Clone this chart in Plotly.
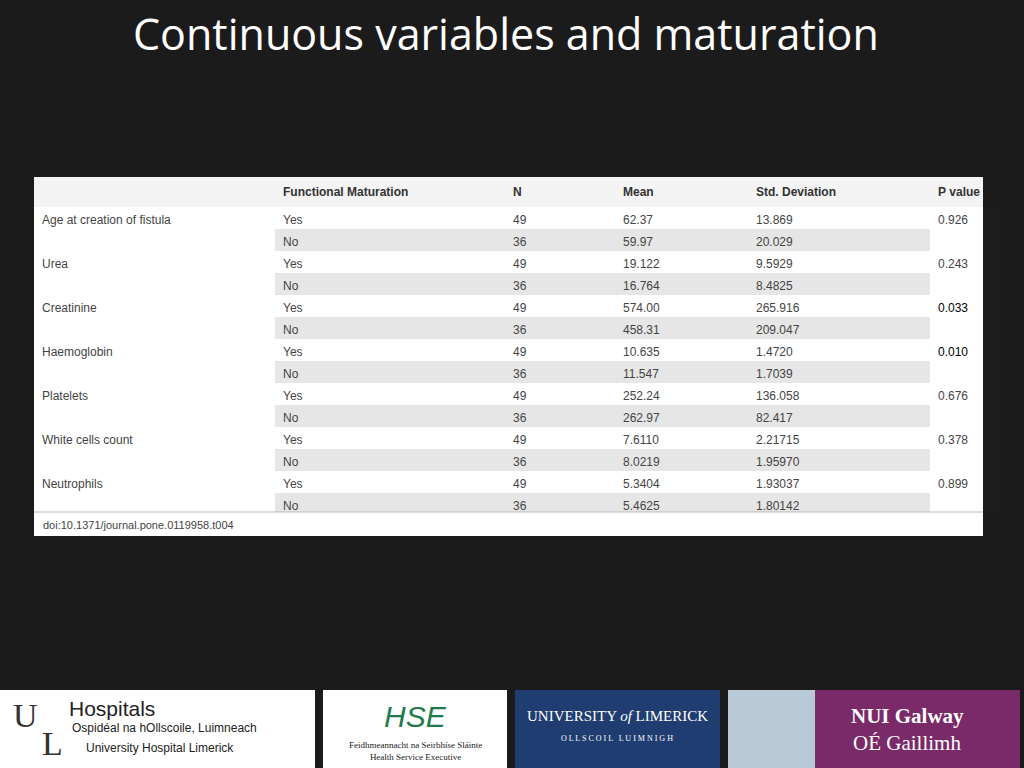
import plotly.graph_objects as go

variables = ["Age at creation of fistula", "", "Urea", "", "Creatinine", "", "Haemoglobin", "",
             "Platelets", "", "White cells count", "", "Neutrophils", ""]
maturation = ["Yes", "No"] * 7
n_vals = ["49", "36"] * 7
means = ["62.37", "59.97", "19.122", "16.764", "574.00", "458.31", "10.635", "11.547",
         "252.24", "262.97", "7.6110", "8.0219", "5.3404", "5.4625"]
std_devs = ["13.869", "20.029", "9.5929", "8.4825", "265.916", "209.047", "1.4720", "1.7039",
            "136.058", "82.417", "2.21715", "1.95970", "1.93037", "1.80142"]
p_values = ["0.926", "", "0.243", "", "0.033", "", "0.010", "", "0.676", "",
            "0.378", "", "0.899", ""]
significant = [False, False, False, False, True, False, True, False, False, False, False, False, False, False]
headers = ["", "<b>Functional Maturation</b>", "<b>N</b>", "<b>Mean</b>", "<b>Std. Deviation</b>",
           "<b>P\u00a0value</b>"]

W, H = 1024, 768
bg = "#1b1b1b"
grey = "#e6e6e6"

row_fill = ["white" if m == "Yes" else grey for m in maturation]
white_col = ["white"] * len(maturation)
fills = [white_col, row_fill, row_fill, row_fill, row_fill, white_col]
colors = [["#444"] * len(maturation)] * 5 + [["#000" if s else "#444" for s in significant]]

fig = go.Figure()
fig.add_trace(go.Table(
    domain=dict(x=[34 / W, 983 / W], y=[1 - 512 / H, 1 - 177 / H]),
    columnwidth=[241, 230, 110, 133, 182, 53],
    header=dict(values=headers, fill_color="#f4f4f4", height=28, align="left",
                line=dict(color="#f4f4f4", width=0),
                font=dict(family="Liberation Sans, Arial", size=12, color="#333")),
    cells=dict(values=[variables, maturation, n_vals, means, std_devs, p_values],
               fill_color=fills, height=22, align="left",
               line=dict(color="white", width=0),
               font=dict(family="Liberation Sans, Arial", size=12, color=colors)),
))

shapes = [
    dict(type="rect", xref="paper", yref="paper", x0=34 / W, x1=983 / W, y0=1 - 536 / H, y1=1 - 177 / H,
         fillcolor="white", line_width=0, layer="below"),
    dict(type="line", xref="paper", yref="paper", x0=34 / W, x1=983 / W, y0=1 - 512 / H, y1=1 - 512 / H,
         line=dict(color="#bbb", width=1)),
]
# footer logo panels
panels = [(0, 315, "white"), (323, 507, "white"), (515, 720, "#1f3d70"), (728, 815, "#b9c9d6"),
          (815, 1020, "#7a2a68")]
for x0, x1, c in panels:
    shapes.append(dict(type="rect", xref="paper", yref="paper", x0=x0 / W, x1=x1 / W,
                       y0=0, y1=1 - 690 / H, fillcolor=c, line_width=0))


def note(text, x, y, size, family="Liberation Sans", color="#222", anchor="center"):
    return dict(text=text, x=x / W, y=1 - y / H, xref="paper", yref="paper", xanchor=anchor,
                yanchor="middle", showarrow=False, font=dict(family=family, size=size, color=color))


ann = [
    note("Continuous variables and maturation", 506, 33, 43, "Open Sans, Lato", "white"),
    note("doi:10.1371/journal.pone.0119958.t004", 41, 525, 11, color="#444", anchor="left"),
    note("U", 25, 715, 34, "Liberation Serif", "#333"),
    note("L", 52, 743, 34, "Liberation Serif", "#333"),
    note("Hospitals", 67, 708, 21, anchor="left"),
    note("Ospidéal na hOllscoile, Luimneach", 70, 728, 12, anchor="left"),
    note("University Hospital Limerick", 84, 748, 12, anchor="left"),
    note("<i>HSE</i>", 415, 716, 30, color="#1e7a4c"),
    note("Feidhmeannacht na Seirbhíse Sláinte<br>Health Service Executive", 415, 751, 9, "Liberation Serif"),
    note("UNIVERSITY <i>of</i> LIMERICK", 617, 716, 15, "Liberation Serif", "white"),
    note("O L L S C O I L   L U I M N I G H", 617, 738, 8, "Liberation Serif", "white"),
    note("<b>NUI Galway</b>", 907, 716, 21, "Liberation Serif", "white"),
    note("OÉ Gaillimh", 907, 743, 21, "Liberation Serif", "white"),
]

fig.update_layout(width=W, height=H, paper_bgcolor=bg, plot_bgcolor=bg,
                  margin=dict(l=0, r=0, t=0, b=0), shapes=shapes, annotations=ann)
fig.write_html("out.html", config={"displayModeBar": False},
               post_script="document.body.style.margin='0';document.body.style.background='#1b1b1b';")
